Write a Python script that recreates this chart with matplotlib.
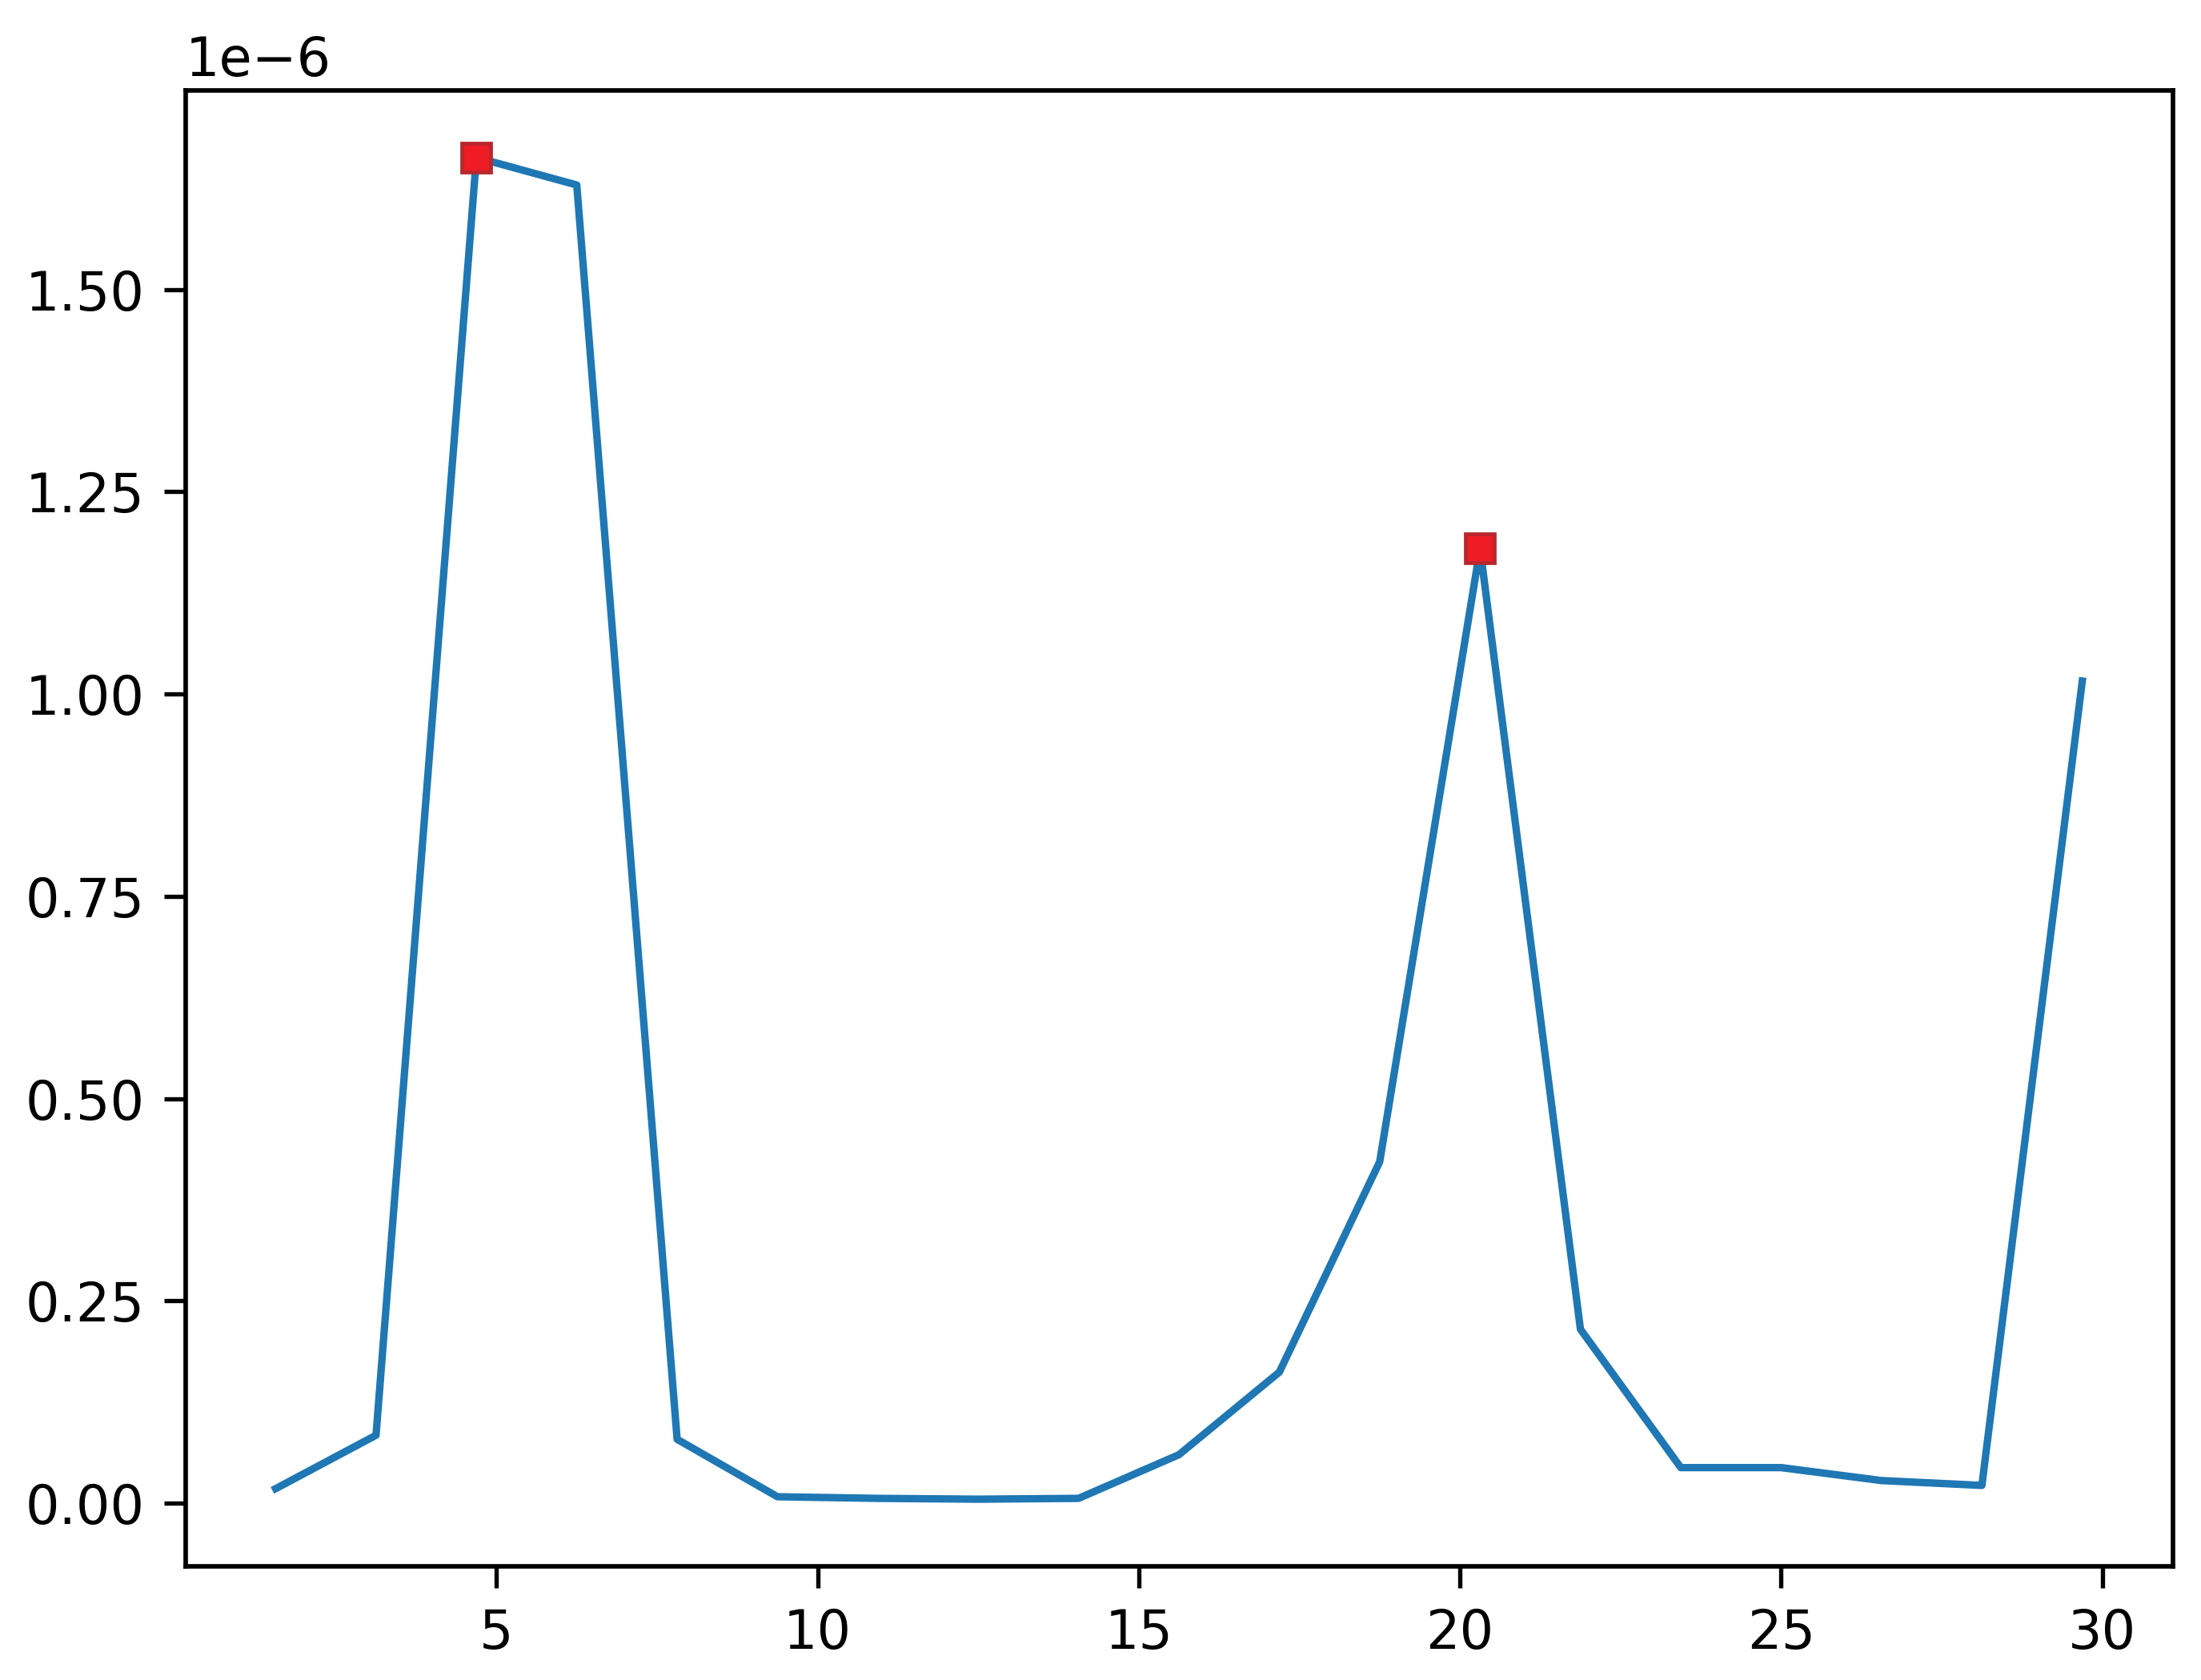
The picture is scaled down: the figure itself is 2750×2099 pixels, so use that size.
import matplotlib
matplotlib.use("Agg")
import matplotlib.pyplot as plt
import numpy as np

# Data (frequency bins and amplitude values)
freq = [1.5625, 3.125, 4.6875, 6.25, 7.8125, 9.375, 10.9375, 12.5, 14.0625,
        15.625, 17.1875, 18.75, 20.3125, 21.875, 23.4375, 25.0, 26.5625,
        28.125, 29.6875]
amp_e6 = [0.018, 0.084, 1.663, 1.629, 0.079, 0.008, 0.006, 0.005, 0.006,
          0.060, 0.162, 0.422, 1.180, 0.215, 0.044, 0.044, 0.028, 0.022, 1.016]
peak_idx = [2, 12]

x = np.array(freq)
y = np.array(amp_e6) * 1e-6

DPI = 430
fig = plt.figure(figsize=(2750 / DPI, 2099 / DPI), dpi=DPI)
ax = fig.add_axes([0.0842, 0.0677, 0.9871 - 0.0842, 0.9462 - 0.0677])

ax.plot(x, y, color="#1f77b4", linewidth=1.55)
ax.plot(x[peak_idx], y[peak_idx], "s", color="#ee1c25",
        markeredgecolor="#b8282e", markersize=6, markeredgewidth=0.8)

ax.set_xticks([5, 10, 15, 20, 25, 30])
ax.set_yticks(np.array([0.0, 0.25, 0.5, 0.75, 1.0, 1.25, 1.5]) * 1e-6)
ax.tick_params(labelsize=11.2, length=4.5, width=0.9, pad=4)
ax.yaxis.get_offset_text().set_fontsize(11.2)
for s in ax.spines.values():
    s.set_linewidth(0.95)

fig.savefig("out.png", dpi=DPI)
